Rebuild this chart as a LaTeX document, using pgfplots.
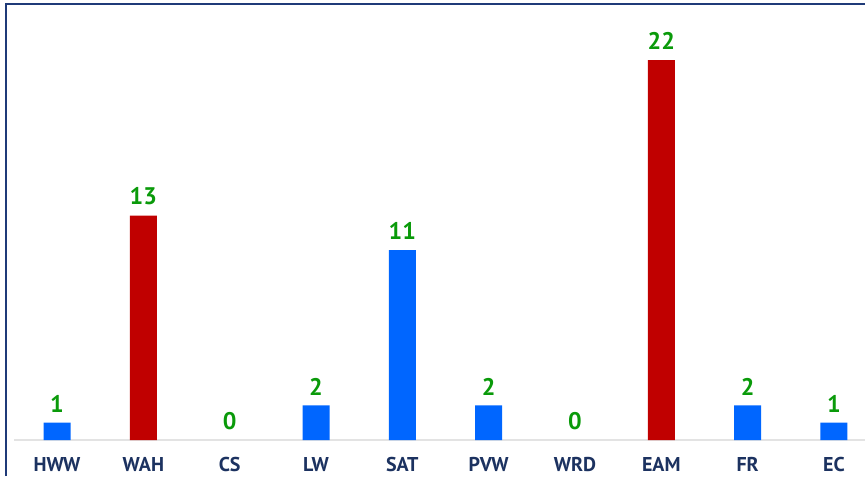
\documentclass[border=0pt]{standalone}
\usepackage{fontspec}
\setmainfont{PT Sans}
\usepackage{pgfplots}
\pgfplotsset{compat=1.18}
\definecolor{navy}{HTML}{1F3A78}
\definecolor{ticknavy}{HTML}{1C3260}
\definecolor{barblue}{HTML}{0066FF}
\definecolor{barred}{HTML}{C00000}
\definecolor{labgreen}{HTML}{0A9A0A}
\definecolor{basegrey}{HTML}{E3E3E3}
\begin{document}
\begin{tikzpicture}[x=0.75pt,y=0.75pt]
\useasboundingbox (0,0) rectangle (865,476);
\begin{axis}[
  at={(10.39pt,27pt)}, anchor=south west,
  scale only axis, width=638.4pt, height=323.8pt,
  xmin=-0.5, xmax=9.36, ymin=0, ymax=25,
  axis y line=none, axis x line*=bottom,
  x axis line style={-, draw=basegrey, line width=0.9pt},
  xtick={0,...,9},
  xticklabels={HWW,WAH,CS,LW,SAT,PVW,WRD,EAM,FR,EC},
  major tick length=0pt,
  xticklabel style={font=\bfseries\fontsize{15}{15}\selectfont, text=ticknavy, inner sep=0pt, anchor=north, yshift=-13pt, text depth=0pt},
  ybar, bar width=20.25pt, bar shift=0pt,
  nodes near coords={\textbf{\pgfmathprintnumber{\pgfplotspointmeta}}},
  /pgf/number format/assume math mode=true,
  every node near coord/.append style={font=\bfseries\fontsize{18}{18}\selectfont, text=labgreen, anchor=south, inner sep=0pt, yshift=7.5pt},
  clip=false,
]
\addplot[fill=barblue, draw=none] coordinates {(0,1) (3,2) (4,11) (5,2) (8,2) (9,1)};
\addplot[fill=barred, draw=none] coordinates {(1,13) (7,22)};
\addplot[fill=none, draw=none] coordinates {(2,0) (6,0)};
\end{axis}
\draw[navy, line width=1.5pt] (6,0) -- (6,472) -- (865,472);
\end{tikzpicture}
\end{document}
